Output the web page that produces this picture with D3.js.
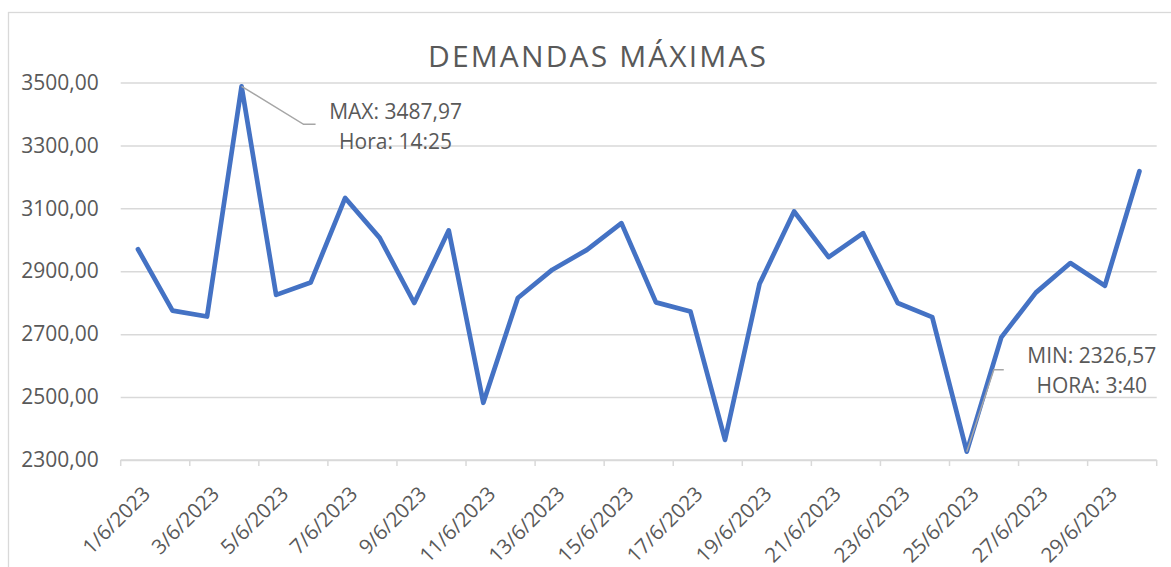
<!DOCTYPE html>
<html>
<head>
<meta charset="utf-8">
<script src="https://cdn.jsdelivr.net/npm/d3@7"></script>
<style>
body{margin:0;background:#fff;}
text{font-family:"Open Sans",sans-serif;fill:#595959;}
</style>
</head>
<body>
<script>
var w = 1171;
var h = 567;

var days = ["1/6/2023","2/6/2023","3/6/2023","4/6/2023","5/6/2023","6/6/2023","7/6/2023","8/6/2023","9/6/2023","10/6/2023",
  "11/6/2023","12/6/2023","13/6/2023","14/6/2023","15/6/2023","16/6/2023","17/6/2023","18/6/2023","19/6/2023","20/6/2023",
  "21/6/2023","22/6/2023","23/6/2023","24/6/2023","25/6/2023","26/6/2023","27/6/2023","28/6/2023","29/6/2023","30/6/2023"];
var demanda = [2970, 2775, 2756, 3487.97, 2825, 2864, 3133, 3006, 2799, 3030,
  2482, 2815, 2905, 2968, 3053, 2801, 2772, 2364, 2860, 3090,
  2945, 3021, 2799, 2754, 2326.57, 2690, 2832, 2926, 2854, 3218];
var yTicks = [2300, 2500, 2700, 2900, 3100, 3300, 3500];
var maxLabel = ["MAX: 3487,97", "Hora: 14:25"];
var minLabel = ["MIN: 2326,57", "HORA: 3:40"];

var pLeft = 120.7, pRight = 1156.7, pTop = 82.5, pBottom = 460;

var fmt = d3.formatLocale({decimal: ",", thousands: ".", grouping: [3], currency: ["", ""]}).format(".2f");

var x = d3.scaleBand().domain(days).range([pLeft, pRight]).padding(0);
var y = d3.scaleLinear().domain([2300, 3500]).range([pBottom, pTop]);
var cx = function(d){ return x(d) + x.bandwidth()/2; };

var svg = d3.select("body").append("svg")
    .attr("width", w)
    .attr("height", h);

// chart frame
svg.append("rect")
    .attr("x", 8.5).attr("y", 12.5)
    .attr("width", w + 20).attr("height", h + 20)
    .attr("fill", "#fff")
    .attr("stroke", "#d9d9d9")
    .attr("stroke-width", 1.3);

svg.append("text")
    .attr("x", 597)
    .attr("y", 66.7)
    .attr("text-anchor", "middle")
    .attr("font-size", 30)
    .attr("textLength", 338)
    .attr("lengthAdjust", "spacing")
    .text("DEMANDAS MÁXIMAS");

// gridlines + y labels
var yAxis = svg.append("g")
    .attr("transform", "translate(" + pLeft + ",0)")
    .call(d3.axisLeft(y).tickValues(yTicks).tickSize(-(pRight - pLeft)).tickFormat(fmt).tickPadding(22));
yAxis.select(".domain").remove();
yAxis.selectAll(".tick line").attr("stroke", "#d9d9d9").attr("stroke-width", 1.5);
yAxis.selectAll(".tick text")
    .attr("font-size", 21)
    .attr("font-family", "Open Sans")
    .attr("fill", "#595959");

// x axis
var xTickVals = days.filter(function(d, i){ return i % 2 == 0; });
var xg = svg.append("g").attr("transform", "translate(0," + pBottom + ")");
xg.append("line")
    .attr("x1", pLeft).attr("x2", pRight)
    .attr("stroke", "#d9d9d9").attr("stroke-width", 1.5);
xg.selectAll(".tk")
    .data(xTickVals.concat(["end"]))
    .enter().append("line")
    .attr("class", "tk")
    .attr("x1", function(d){ return d == "end" ? pRight : x(d); })
    .attr("x2", function(d){ return d == "end" ? pRight : x(d); })
    .attr("y1", 0).attr("y2", 6)
    .attr("stroke", "#d9d9d9").attr("stroke-width", 1.5);
xg.selectAll(".lbl")
    .data(xTickVals)
    .enter().append("text")
    .attr("class", "lbl")
    .attr("transform", function(d){ return "translate(" + (cx(d) + 8.5) + ",30) rotate(-45)"; })
    .attr("text-anchor", "end")
    .attr("dy", "0.35em")
    .attr("font-size", 20.5)
    .text(function(d){ return d; });

// series
var line = d3.line()
    .x(function(d, i){ return cx(days[i]); })
    .y(function(d){ return y(d); });

svg.append("path")
    .datum(demanda)
    .attr("d", line)
    .attr("fill", "none")
    .attr("stroke", "#4472c4")
    .attr("stroke-width", 4.7)
    .attr("stroke-linejoin", "round")
    .attr("stroke-linecap", "round");

// callouts
var iMax = demanda.indexOf(d3.max(demanda));
var iMin = demanda.indexOf(d3.min(demanda));
var pMax = [cx(days[iMax]), y(demanda[iMax])];
var pMin = [cx(days[iMin]), y(demanda[iMin])];

svg.append("polyline")
    .attr("points", [pMax, [pMax[0] + 62, pMax[1] + 38], [pMax[0] + 74, pMax[1] + 38]].join(" "))
    .attr("fill", "none")
    .attr("stroke", "#a6a6a6")
    .attr("stroke-width", 1.5);

svg.append("polyline")
    .attr("points", [pMin, [pMin[0] + 27, pMin[1] - 82], [pMin[0] + 37, pMin[1] - 82]].join(" "))
    .attr("fill", "none")
    .attr("stroke", "#a6a6a6")
    .attr("stroke-width", 1.5);

svg.selectAll(".maxl")
    .data(maxLabel)
    .enter().append("text")
    .attr("class", "maxl")
    .attr("x", pMax[0] + 154)
    .attr("y", function(d, i){ return pMax[1] + 33 + i*29.5; })
    .attr("text-anchor", "middle")
    .attr("font-size", 21)
    .text(function(d){ return d; });

svg.selectAll(".minl")
    .data(minLabel)
    .enter().append("text")
    .attr("class", "minl")
    .attr("x", pMin[0] + 125)
    .attr("y", function(d, i){ return pMin[1] - 88.5 + i*29.5; })
    .attr("text-anchor", "middle")
    .attr("font-size", 21)
    .text(function(d){ return d; });
</script>
</body>
</html>
